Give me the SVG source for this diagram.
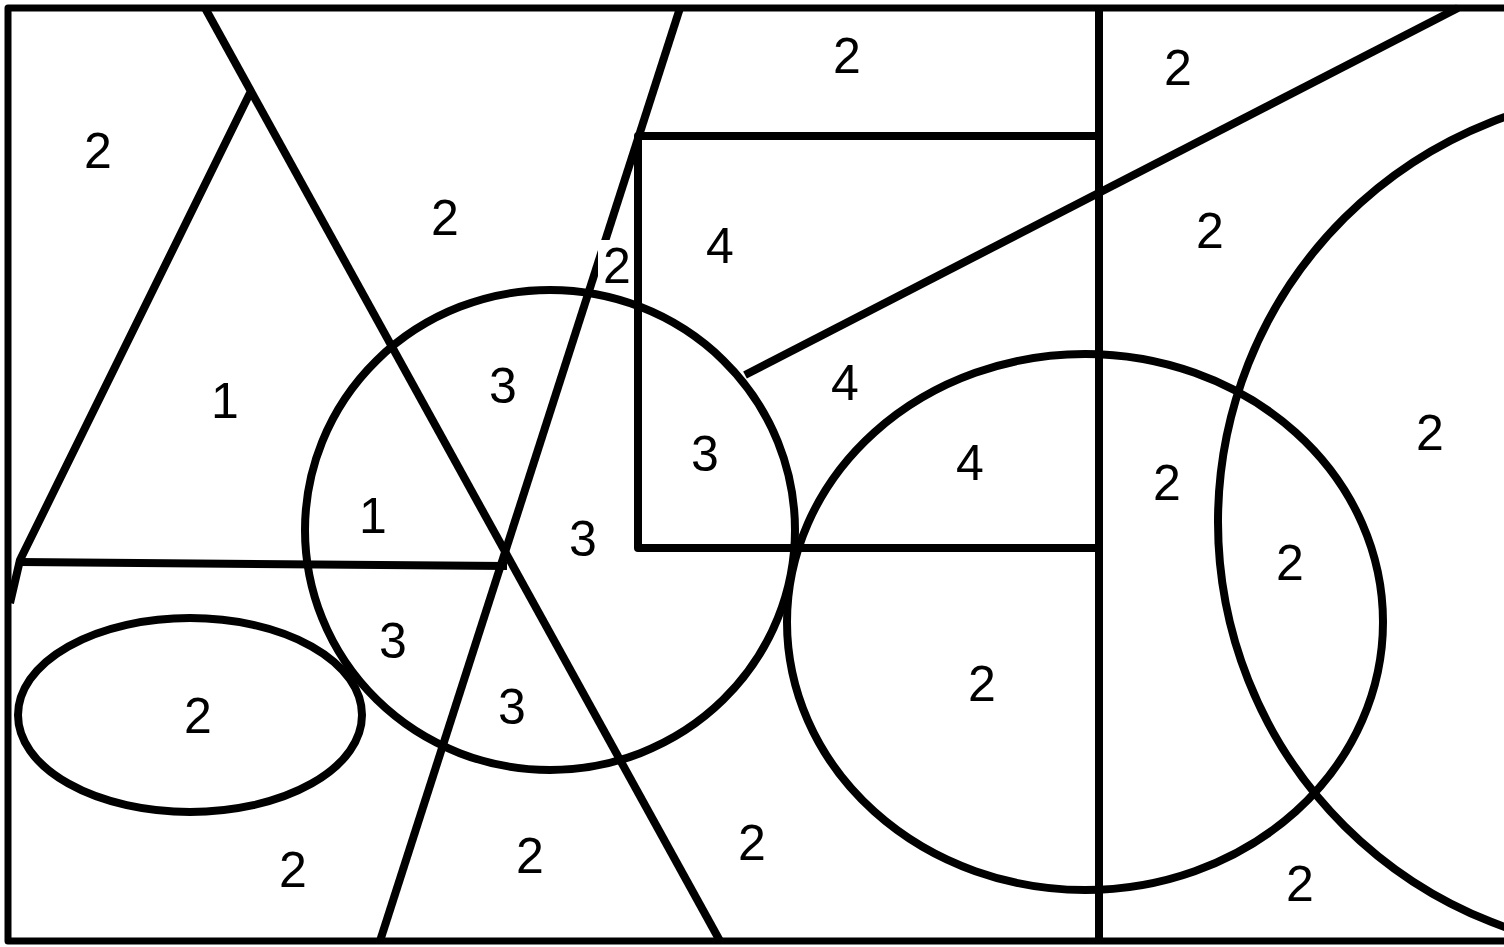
<svg xmlns="http://www.w3.org/2000/svg" width="1504" height="947" viewBox="0 0 1504 947">
<style>
.s{fill:none;stroke:#000;stroke-width:8;stroke-linejoin:round}
.t{font-family:"Liberation Sans",Arial,sans-serif;font-size:50px;fill:#000;text-anchor:middle}
</style>
<rect width="1504" height="947" fill="#fff"/>
<g id="shapes">
<polyline class="s" points="1504,8 8,8 8,941 1504,941" style="stroke-width:7"/>
<line class="s" x1="205" y1="8" x2="720" y2="941"/>
<polyline class="s" points="250,93 20,560 10,603"/>
<line class="s" x1="20" y1="562" x2="507" y2="566"/>
<line class="s" x1="680" y1="8" x2="380" y2="941"/>
<polyline class="s" points="1099,136 638,136 638,548 1099,548"/>
<line class="s" x1="1099" y1="8" x2="1099" y2="941"/>
<line class="s" x1="745" y1="375" x2="1458" y2="8"/>
<ellipse class="s" cx="550" cy="530" rx="245" ry="240"/>
<ellipse class="s" cx="190" cy="715" rx="172" ry="97"/>
<ellipse class="s" cx="1085" cy="622" rx="298" ry="268"/>
<ellipse class="s" cx="1650" cy="522" rx="432" ry="430"/>
<rect x="598" y="240" width="35" height="48" fill="#fff"/>
</g>
<g id="labels">
<text class="t" x="98" y="168">2</text>
<text class="t" x="445" y="235">2</text>
<text class="t" x="847" y="73">2</text>
<text class="t" x="1178" y="85">2</text>
<text class="t" x="617" y="283">2</text>
<text class="t" x="720" y="263">4</text>
<text class="t" x="1210" y="248">2</text>
<text class="t" x="225" y="418">1</text>
<text class="t" x="503" y="403">3</text>
<text class="t" x="845" y="400">4</text>
<text class="t" x="705" y="471">3</text>
<text class="t" x="970" y="480">4</text>
<text class="t" x="1430" y="450">2</text>
<text class="t" x="373" y="533">1</text>
<text class="t" x="583" y="556">3</text>
<text class="t" x="1167" y="500">2</text>
<text class="t" x="1290" y="580">2</text>
<text class="t" x="393" y="658">3</text>
<text class="t" x="198" y="733">2</text>
<text class="t" x="512" y="724">3</text>
<text class="t" x="982" y="701">2</text>
<text class="t" x="293" y="887">2</text>
<text class="t" x="530" y="873">2</text>
<text class="t" x="752" y="860">2</text>
<text class="t" x="1300" y="901">2</text>
</g>
</svg>
